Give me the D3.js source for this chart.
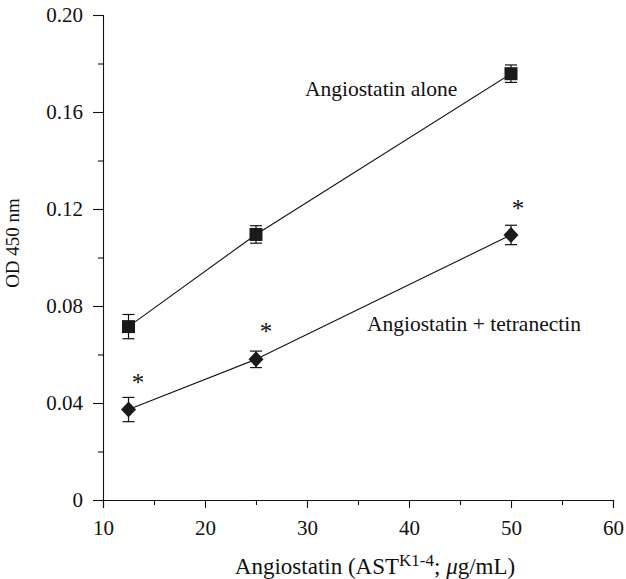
<!DOCTYPE html>
<html><head><meta charset="utf-8">
<script src="https://cdn.jsdelivr.net/npm/d3@7"></script>
<style>body{margin:0;background:#fff}svg{display:block}svg text{font-family:"Liberation Serif","DejaVu Serif",serif !important;fill:#111}</style>
</head><body>
<script>
const concentrations = [12.5, 25, 50];
const aloneValues = [0.0715, 0.1095, 0.1758];
const aloneErrors = [0.005, 0.0036, 0.0036];
const tetraValues = [0.0373, 0.0580, 0.1093];
const tetraErrors = [0.005, 0.0034, 0.004];
const asteriskX = [13.43, 25.98, 50.69];
const asteriskY = [0.0499, 0.0709, 0.1217];
const xTicks = [10, 20, 30, 40, 50, 60];
const xMinor = [15, 25, 35, 45, 55];
const yTicks = [0, 0.04, 0.08, 0.12, 0.16, 0.20];
const yMinor = [0.02, 0.06, 0.10, 0.14, 0.18];
const seriesLabels = ["Angiostatin alone", "Angiostatin + tetranectin"];

const W = 626, H = 579;
const m = {left: 103, right: 13, top: 15, bottom: 79};
const svg = d3.select("body").append("svg").attr("width", W).attr("height", H);
const x = d3.scaleLinear().domain([10, 60]).range([m.left, W - m.right]);
const y = d3.scaleLinear().domain([0, 0.20]).range([H - m.bottom, m.top]);

// axes
const xAxis = d3.axisBottom(x).tickValues(xTicks).tickFormat(d3.format("d")).tickSizeOuter(0).tickSize(8).tickPadding(12);
const gx = svg.append("g").attr("transform", `translate(0,${y(0)})`).call(xAxis);
gx.selectAll(".tick text").attr("font-size", 21);
const gxm = svg.append("g").attr("transform", `translate(0,${y(0)})`)
  .call(d3.axisBottom(x).tickValues(xMinor).tickFormat("").tickSize(5).tickSizeOuter(0));
gxm.select(".domain").remove();

const yAxis = d3.axisLeft(y).tickValues(yTicks).tickFormat(d => d === 0 ? "0" : d3.format(".2f")(d)).tickSizeOuter(0).tickSize(10).tickPadding(10);
const gy = svg.append("g").attr("transform", `translate(${x(10)},0)`).call(yAxis);
gy.selectAll(".tick text").attr("font-size", 21);
const gym = svg.append("g").attr("transform", `translate(${x(10)},0)`)
  .call(d3.axisLeft(y).tickValues(yMinor).tickFormat("").tickSize(5).tickSizeOuter(0));
gym.select(".domain").remove();
svg.selectAll(".domain, .tick line").attr("stroke", "#111").attr("stroke-width", 1.1);

// axis titles
svg.append("text").attr("transform", `translate(19,243) rotate(-90)`)
  .attr("text-anchor", "middle").attr("font-size", 19).text("OD 450 nm");
const xt = svg.append("text").attr("x", 375).attr("y", 574).attr("text-anchor", "middle").attr("font-size", 23);
xt.append("tspan").text("Angiostatin (AST");
xt.append("tspan").attr("font-size", 17).attr("dy", -8).text("K1-4");
xt.append("tspan").attr("dy", 8).text("; ");
xt.append("tspan").attr("font-style", "italic").text("μ");
xt.append("tspan").text("g/mL)");

const line = d3.line().x(d => x(d[0])).y(d => y(d[1]));
function series(vals, errs, shape) {
  const pts = concentrations.map((c, i) => [c, vals[i], errs[i]]);
  svg.append("path").datum(pts).attr("d", line).attr("fill", "none").attr("stroke", "#111").attr("stroke-width", 1.1);
  const g = svg.append("g").selectAll("g").data(pts).join("g");
  g.append("line").attr("x1", d => x(d[0])).attr("x2", d => x(d[0]))
    .attr("y1", d => y(d[1] - d[2])).attr("y2", d => y(d[1] + d[2])).attr("stroke", "#111").attr("stroke-width", 1.2);
  ["-", "+"].forEach(s => {
    g.append("line").attr("x1", d => x(d[0]) - 6).attr("x2", d => x(d[0]) + 6)
      .attr("y1", d => y(s === "+" ? d[1] + d[2] : d[1] - d[2]))
      .attr("y2", d => y(s === "+" ? d[1] + d[2] : d[1] - d[2])).attr("stroke", "#111").attr("stroke-width", 1.2);
  });
  if (shape === "square") {
    g.append("rect").attr("x", d => x(d[0]) - 6.5).attr("y", d => y(d[1]) - 6.5)
      .attr("width", 13).attr("height", 13).attr("fill", "#1a1a1a");
  } else {
    g.append("path").attr("d", d => {
      const cx = x(d[0]), cy = y(d[1]);
      return `M${cx},${cy - 8}L${cx + 7.5},${cy}L${cx},${cy + 8}L${cx - 7.5},${cy}Z`;
    }).attr("fill", "#1a1a1a");
  }
}
series(aloneValues, aloneErrors, "square");
series(tetraValues, tetraErrors, "diamond");

// asterisks
svg.append("g").selectAll("text").data(asteriskX.map((v, i) => [v, asteriskY[i]])).join("text")
  .attr("x", d => x(d[0])).attr("y", d => y(d[1]) + 12).attr("text-anchor", "middle")
  .attr("font-size", 25).attr("fill", "#333").text("*");

// series labels
svg.append("text").attr("x", 305).attr("y", 96).attr("font-size", 21.5).text(seriesLabels[0]);
svg.append("text").attr("x", 367).attr("y", 331).attr("font-size", 21.5).text(seriesLabels[1]);
</script>
</body></html>
